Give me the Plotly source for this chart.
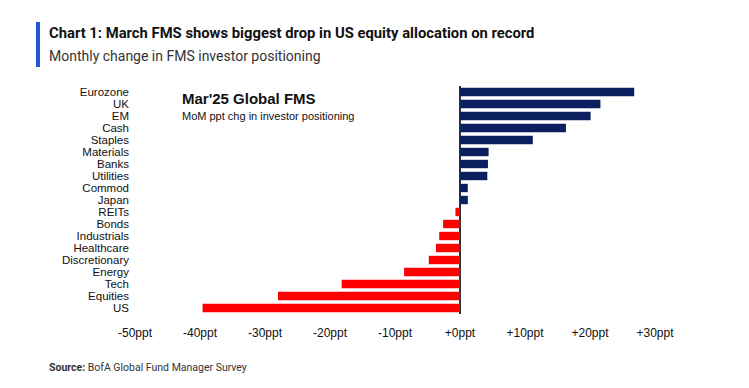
import plotly.graph_objects as go

categories = ["Eurozone", "UK", "EM", "Cash", "Staples", "Materials", "Banks", "Utilities",
              "Commod", "Japan", "REITs", "Bonds", "Industrials", "Healthcare",
              "Discretionary", "Energy", "Tech", "Equities", "US"]
values = [26.8, 21.6, 20.1, 16.3, 11.2, 4.4, 4.3, 4.2, 1.2, 1.2,
          -0.7, -2.6, -3.2, -3.7, -4.8, -8.6, -18.2, -28.0, -39.6]
tick_vals = [-50, -40, -30, -20, -10, 0, 10, 20, 30]
tick_text = ["-50ppt", "-40ppt", "-30ppt", "-20ppt", "-10ppt", "+0ppt", "+10ppt", "+20ppt", "+30ppt"]

NAVY = "#0b1f5e"
RED = "#ff0000"
colors = [NAVY if v >= 0 else RED for v in values]

# page body has an 8px default margin
OFF = 8
W, H = 749 - OFF, 388 - OFF
L, R, T, B = 135 - OFF, 94, 86 - OFF, 74
pw, ph = W - L - R, H - T - B

def px(x):
    return (x - OFF - L) / pw

def py(y):
    return (H - B - (y - OFF)) / ph

fig = go.Figure(go.Bar(
    x=values, y=categories, orientation="h",
    marker=dict(color=colors, line=dict(width=0)),
    hoverinfo="skip",
))

fig.update_layout(
    width=W, height=H,
    margin=dict(l=L, r=R, t=T, b=B, autoexpand=False),
    paper_bgcolor="white", plot_bgcolor="white",
    bargap=0.3, showlegend=False,
    font=dict(family="Liberation Sans, Arial", color="#111111"),
    xaxis=dict(range=[-50, 30], tickvals=tick_vals, ticktext=tick_text,
               showgrid=False, zeroline=True, zerolinecolor="#333333", zerolinewidth=1.5,
               showline=False, ticks="", tickfont=dict(size=12, color="#111111"),
               ticklabelstandoff=10, fixedrange=True),
    yaxis=dict(categoryorder="array", categoryarray=categories, autorange="reversed",
               tickmode="array", tickvals=categories, ticktext=categories,
               showgrid=False, showline=False, ticks="", tickfont=dict(size=11.5, color="#111111"),
               ticklabelstandoff=5, fixedrange=True),
    shapes=[dict(type="rect", xref="paper", yref="paper",
                 x0=px(36), x1=px(40), y0=py(67), y1=py(22),
                 fillcolor="#1f5bd0", line=dict(width=0))],
    annotations=[
        dict(text="<b>Chart 1: March FMS shows biggest drop in US equity allocation on record</b>",
             xref="paper", yref="paper", x=px(47), y=py(33), xanchor="left", yanchor="middle",
             showarrow=False, font=dict(size=14.8, color="#111111", family="Roboto, Liberation Sans, Arial")),
        dict(text="Monthly change in FMS investor positioning",
             xref="paper", yref="paper", x=px(47), y=py(56), xanchor="left", yanchor="middle",
             showarrow=False, font=dict(size=14, color="#333333", family="Roboto, Liberation Sans, Arial")),
        dict(text="<b>Mar'25 Global FMS</b>",
             xref="paper", yref="paper", x=px(180), y=py(98), xanchor="left", yanchor="middle",
             showarrow=False, font=dict(size=15, color="#111111", family="Liberation Sans, Arial")),
        dict(text="MoM ppt chg in investor positioning",
             xref="paper", yref="paper", x=px(180), y=py(116), xanchor="left", yanchor="middle",
             showarrow=False, font=dict(size=11, color="#111111", family="Liberation Sans, Arial")),
        dict(text="<b>Source:</b> BofA Global Fund Manager Survey",
             xref="paper", yref="paper", x=px(47), y=py(367), xanchor="left", yanchor="middle",
             showarrow=False, font=dict(size=10.5, color="#333333", family="Roboto, Liberation Sans, Arial")),
    ],
)

fig.write_html("out.html")
